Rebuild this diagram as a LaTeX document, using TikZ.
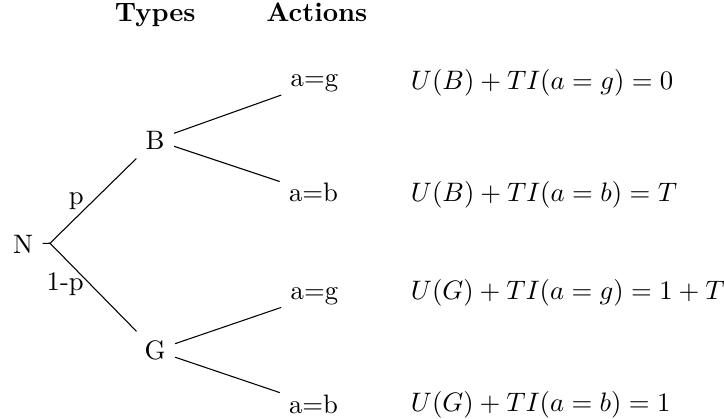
\documentclass[tikz,border=0pt]{standalone}
\usepackage{amssymb}
\usetikzlibrary{positioning}

\tikzset{
    header/.style={font=\bfseries, anchor=base},
    payoff/.style={anchor=base west, inner sep=0pt}
}

\begin{document}
\begin{tikzpicture}[scale=1.053]

        \useasboundingbox (0,0) rectangle (9.05,-5.2375);

        % Headers
        \node[header] (types) at (1.94,-0.27) {Types};
        \node[header] (actions) at (3.96,-0.27) {Actions};

        % Nature
        \node (N) at (0.29,-3.05) {N};
        \coordinate (fork) at (0.625,-3.04);
        \draw (N) -- (fork);

        % Types
        \node (B) at (1.94,-1.75) {B};
        \node (G) at (1.94,-4.38) {G};
        \draw (fork) -- node[midway, left] {p} (B);
        \draw (fork) -- node[midway, left, yshift=1pt] {1-p} (G);

        % Actions
        \node (Bg) at (3.93,-1.04) {a=g};
        \node (Bb) at (3.92,-2.41) {a=b};
        \node (Gg) at (3.93,-3.70) {a=g};
        \node (Gb) at (3.92,-5.05) {a=b};
        \draw (B) -- (Bg);
        \draw (B) -- (Bb);
        \draw (G) -- (Gg);
        \draw (G) -- (Gb);

        % Payoffs
        \node[payoff] (pBg) at (5.13,-1.125) {$U(B) + TI(a=g) = 0$};
        \node[payoff] (pBb) at (5.13,-2.52) {$U(B) + TI(a=b) = T$};
        \node[payoff] (pGg) at (5.13,-3.75) {$U(G) + TI(a=g) = 1 + T$};
        \node[payoff] (pGb) at (5.13,-5.146) {$U(G) + TI(a=b) = 1$};

    \end{tikzpicture}
\end{document}
